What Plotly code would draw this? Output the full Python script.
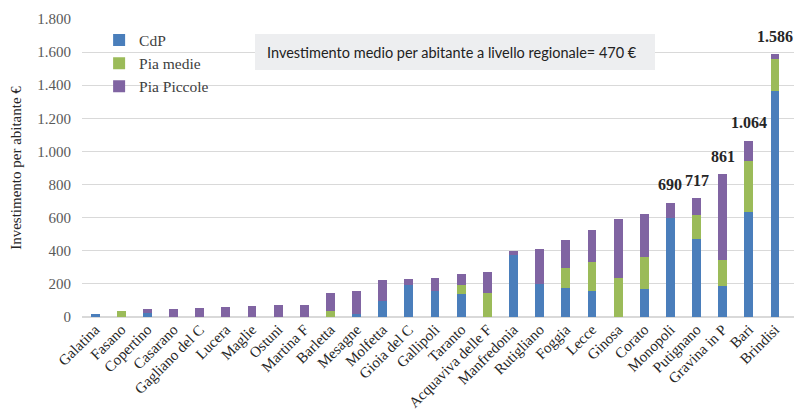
import plotly.graph_objects as go

comuni = ["Galatina", "Fasano", "Copertino", "Casarano", "Gagliano del C", "Lucera", "Maglie",
          "Ostuni", "Martina F", "Barletta", "Mesagne", "Molfetta", "Gioia del C", "Gallipoli",
          "Taranto", "Acquaviva delle F", "Manfredonia", "Rutigliano", "Foggia", "Lecce",
          "Ginosa", "Corato", "Monopoli", "Putignano", "Gravina in P", "Bari", "Brindisi"]
cdp = [16, 0, 22, 0, 0, 0, 0, 0, 0, 0, 20, 95, 195, 157, 138, 0, 372, 198, 178, 160,
       0, 167, 600, 472, 190, 632, 1365]
pia_medie = [0, 36, 0, 0, 0, 0, 0, 0, 0, 35, 0, 0, 0, 0, 56, 148, 0, 0, 118, 170,
             235, 193, 0, 147, 152, 308, 191]
totali = [16, 36, 46, 47, 56, 58, 66, 70, 71, 148, 157, 225, 230, 233, 257, 274, 401, 410,
          466, 523, 590, 624, 690, 717, 861, 1064, 1586]
pia_piccole = [t - a - b for t, a, b in zip(totali, cdp, pia_medie)]
etichette_idx = [22, 23, 24, 25, 26]

serif = "Liberation Serif, Times New Roman, serif"
fig = go.Figure()
fig.add_bar(x=comuni, y=cdp, name="CdP", marker_color="#4A7EBB", marker_line_width=0)
fig.add_bar(x=comuni, y=pia_medie, name="Pia medie", marker_color="#9BBB59", marker_line_width=0)
fig.add_bar(x=comuni, y=pia_piccole, name="Pia Piccole", marker_color="#8064A2", marker_line_width=0)

annotations = [dict(xref="x", yref="y", x=comuni[i], y=totali[i], yshift=18, yanchor="middle",
                    text="<b>" + f"{totali[i]:,}".replace(",", ".") + "</b>", showarrow=False,
                    font=dict(family=serif, size=16, color="#262626")) for i in etichette_idx]
annotations.append(dict(xref="paper", yref="paper", x=0.2567, y=0.889, xanchor="left", yanchor="middle",
                        text="Investimento medio per abitante a livello regionale= 470 €", showarrow=False,
                        font=dict(family="Lato", size=14.5, color="#222222")))

# page body adds an 8px margin, so the figure is 8px smaller and margins compensate
fig.update_layout(
    width=794, height=402, barmode="stack", bargap=0.66,
    margin=dict(l=74, r=7, t=11, b=93, autoexpand=False),
    plot_bgcolor="white", paper_bgcolor="white",
    separators=",.",
    font=dict(family=serif, color="#404040"),
    legend=dict(x=0.024, y=0.985, xanchor="left", yanchor="top", traceorder="normal",
                font=dict(family=serif, size=15.5, color="#404040"), bgcolor="rgba(0,0,0,0)",
                itemwidth=30, tracegroupgap=0),
    shapes=[dict(type="rect", xref="paper", yref="paper", x0=0.2426, x1=0.8036, y0=0.829, y1=0.950,
                 fillcolor="#EDEEF0", line_width=0, layer="above")],
    annotations=annotations,
)
fig.update_yaxes(range=[0, 1800], dtick=200, tickformat=",d", showgrid=True, gridcolor="#D9D9D9",
                 gridwidth=1, zeroline=True, zerolinecolor="#D9D9D9", showline=False, automargin=False,
                 tickfont=dict(family=serif, size=15, color="#595959"), ticks="", ticklen=0,
                 ticklabelstandoff=10,
                 title=dict(text="Investimento per abitante €", font=dict(family=serif, size=15, color="#262626"),
                            standoff=12))
fig.update_xaxes(tickangle=-45, tickfont=dict(family=serif, size=15, color="#262626"), showline=False,
                 ticks="", showgrid=False, automargin=False)
fig.write_html("out.html")
